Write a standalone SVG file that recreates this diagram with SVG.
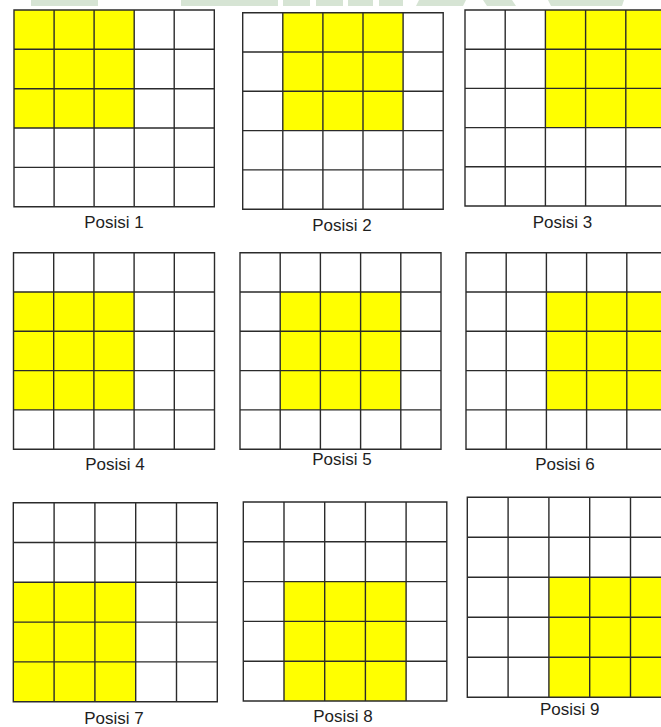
<svg xmlns="http://www.w3.org/2000/svg" width="661" height="727" viewBox="0 0 661 727">
<style>
.bg{fill:#ffffff}
.wm{fill:#d6e4d4}
.hl{fill:#ffff00}
.grid{fill:none;stroke:#2b2b2b;stroke-width:1.4}
.lbl{font-family:"Liberation Sans",Arial,sans-serif;font-size:17px;fill:#1e1e1e;text-anchor:middle}
</style>
<rect class="bg" x="0" y="0" width="661" height="727"/>
<g id="watermark">
<rect class="wm" x="31" y="0" width="67" height="6"/>
<rect class="wm" x="181" y="0" width="97" height="6"/>
<rect class="wm" x="283" y="0" width="27" height="6"/>
<rect class="wm" x="316" y="0" width="27" height="6"/>
<rect class="wm" x="348" y="0" width="25" height="6"/>
<rect class="wm" x="379" y="0" width="24" height="6"/>
<polygon class="wm" points="416,6 419,0 466,0 463,6"/>
<polygon class="wm" points="483,0 512,0 516,6 487,6"/>
<polygon class="wm" points="548,0 624,0 622,6 551,6"/>
</g>
<g id="posisi-1">
<rect class="hl" x="14" y="10" width="120.2" height="118"/>
<path class="grid" d="M14 10H214.3V206.7H14Z M54.1 10V206.7 M94.1 10V206.7 M134.2 10V206.7 M174.2 10V206.7 M14 49.3H214.3 M14 88.7H214.3 M14 128H214.3 M14 167.4H214.3"/>
<text class="lbl" x="114" y="228">Posisi 1</text>
</g>
<g id="posisi-2">
<rect class="hl" x="282.8" y="12.7" width="120.3" height="117.9"/>
<path class="grid" d="M242.7 12.7H443.2V209.2H242.7Z M282.8 12.7V209.2 M322.9 12.7V209.2 M363 12.7V209.2 M403.1 12.7V209.2 M242.7 52H443.2 M242.7 91.3H443.2 M242.7 130.6H443.2 M242.7 169.9H443.2"/>
<text class="lbl" x="342" y="231">Posisi 2</text>
</g>
<g id="posisi-3">
<rect class="hl" x="545.4" y="10" width="120.6" height="117.6"/>
<path class="grid" d="M666 10H465V206H666 M465 10V206 M505.2 10V206 M545.4 10V206 M585.6 10V206 M625.8 10V206 M465 49.2H666 M465 88.4H666 M465 127.6H666 M465 166.8H666"/>
<text class="lbl" x="562.5" y="228">Posisi 3</text>
</g>
<g id="posisi-4">
<rect class="hl" x="13.5" y="292" width="120.6" height="117.9"/>
<path class="grid" d="M13.5 252.7H214.5V449.2H13.5Z M53.7 252.7V449.2 M93.9 252.7V449.2 M134.1 252.7V449.2 M174.3 252.7V449.2 M13.5 292H214.5 M13.5 331.3H214.5 M13.5 370.6H214.5 M13.5 409.9H214.5"/>
<text class="lbl" x="115" y="470">Posisi 4</text>
</g>
<g id="posisi-5">
<rect class="hl" x="280.2" y="292" width="120.6" height="117.9"/>
<path class="grid" d="M240 252.7H441V449.2H240Z M280.2 252.7V449.2 M320.4 252.7V449.2 M360.6 252.7V449.2 M400.8 252.7V449.2 M240 292H441 M240 331.3H441 M240 370.6H441 M240 409.9H441"/>
<text class="lbl" x="342" y="465">Posisi 5</text>
</g>
<g id="posisi-6">
<rect class="hl" x="546.4" y="292" width="120.6" height="117.9"/>
<path class="grid" d="M667 252.7H466V449.2H667 M466 252.7V449.2 M506.2 252.7V449.2 M546.4 252.7V449.2 M586.6 252.7V449.2 M626.8 252.7V449.2 M466 292H667 M466 331.3H667 M466 370.6H667 M466 409.9H667"/>
<text class="lbl" x="565" y="470">Posisi 6</text>
</g>
<g id="posisi-7">
<rect class="hl" x="13.3" y="582.3" width="122.4" height="119.4"/>
<path class="grid" d="M13.3 502.7H217.3V701.7H13.3Z M54.1 502.7V701.7 M94.9 502.7V701.7 M135.7 502.7V701.7 M176.5 502.7V701.7 M13.3 542.5H217.3 M13.3 582.3H217.3 M13.3 622.1H217.3 M13.3 661.9H217.3"/>
<text class="lbl" x="114" y="724">Posisi 7</text>
</g>
<g id="posisi-8">
<rect class="hl" x="284" y="581.6" width="122.1" height="119.4"/>
<path class="grid" d="M243.3 502H446.8V701H243.3Z M284 502V701 M324.7 502V701 M365.4 502V701 M406.1 502V701 M243.3 541.8H446.8 M243.3 581.6H446.8 M243.3 621.4H446.8 M243.3 661.2H446.8"/>
<text class="lbl" x="343" y="722">Posisi 8</text>
</g>
<g id="posisi-9">
<rect class="hl" x="548.9" y="577.3" width="122.4" height="120"/>
<path class="grid" d="M671.3 497.3H467.3V697.3H671.3 M467.3 497.3V697.3 M508.1 497.3V697.3 M548.9 497.3V697.3 M589.7 497.3V697.3 M630.5 497.3V697.3 M467.3 537.3H671.3 M467.3 577.3H671.3 M467.3 617.3H671.3 M467.3 657.3H671.3"/>
<text class="lbl" x="569.7" y="715">Posisi 9</text>
</g>
<g id="connectors"/>
</svg>
